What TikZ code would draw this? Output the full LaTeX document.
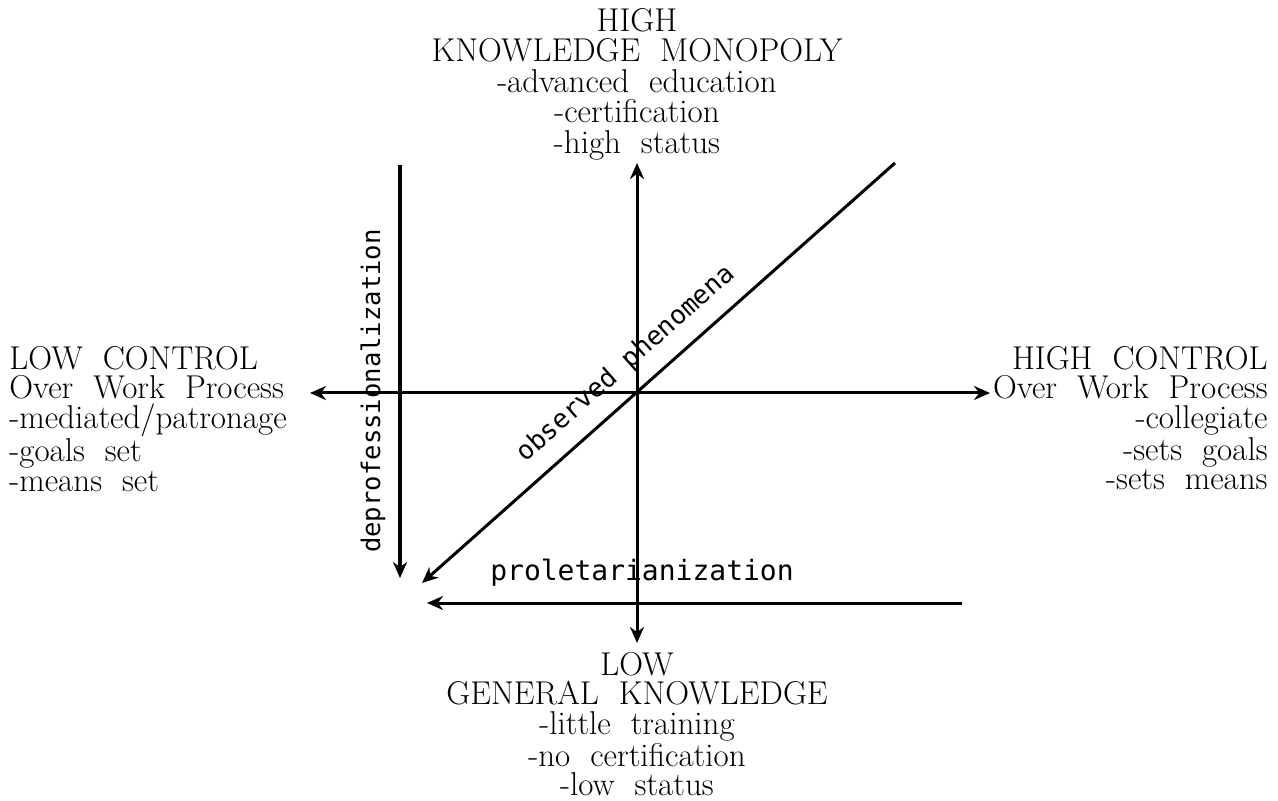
\documentclass[tikz,border=0pt]{standalone}
\usepackage{fontspec}
\setmonofont{DejaVu Sans Mono}
\usetikzlibrary{arrows.meta, positioning}

\begin{document}
\begin{tikzpicture}[x=0.5pt, y=-0.5pt, >={Stealth[length=8pt, width=7pt]},
        pole/.style={inner sep=0pt, font=\fontsize{16.5}{14.75}\selectfont},
        trend/.style={inner sep=0pt, font=\fontsize{14}{14}\selectfont\ttfamily},
        axis/.style={line width=1.5pt}]
        \useasboundingbox (0,0) rectangle (1278,801);

        % Polos
        \node[pole, font=\fontsize{16.5}{15.25}\selectfont, align=center, anchor=north] (high) at (637,8) {HIGH\\KNOWLEDGE\ \ MONOPOLY\\-advanced\ \ education\\-certification\\-high\ \ status};
        \node[pole, align=center, anchor=north] (low) at (637,652) {LOW\\GENERAL\ \ KNOWLEDGE\\-little\ \ training\\-no\ \ certification\\-low\ \ status};
        \node[pole, align=left, anchor=north west] (lowctrl) at (9,346) {LOW\ \ CONTROL\\Over\ \ Work\ \ Process\\-mediated/patronage\\-goals\ \ set\\-means\ \ set};
        \node[pole, align=right, anchor=north east] (highctrl) at (1268,346) {HIGH\ \ CONTROL\\Over\ \ Work\ \ Process\\-collegiate\\-sets\ \ goals\\-sets\ \ means};

        % Eixos
        \coordinate (ctr) at (637,393);
        \coordinate (n) at (637,163);
        \coordinate (s) at (637,643);
        \coordinate (w) at (310,393);
        \coordinate (e) at (990,393);
        \draw[axis, <->] (w) -- (e);
        \draw[axis, <->] (s) -- (n);

        % Tendencias
        \coordinate (obs1) at (895,163);
        \coordinate (obs2) at (422,583);
        \draw[axis, ->] (obs1) -- (obs2);
        \node[trend, font=\fontsize{13}{13}\selectfont\ttfamily, rotate=41.6] (obslab) at (626,364) {observed phenomena};

        \coordinate (dep1) at (400,165);
        \coordinate (dep2) at (400,578);
        \draw[line width=2pt, ->] (dep1) -- (dep2);
        \node[trend, font=\fontsize{12.8}{13}\selectfont\ttfamily, rotate=90] (deplab) at (373,391) {deprofessionalization};

        \coordinate (pro1) at (962,603);
        \coordinate (pro2) at (427,603);
        \draw[axis, ->] (pro1) -- (pro2);
        \node[trend] (prolab) at (642,573) {proletarianization};
    \end{tikzpicture}
\end{document}
